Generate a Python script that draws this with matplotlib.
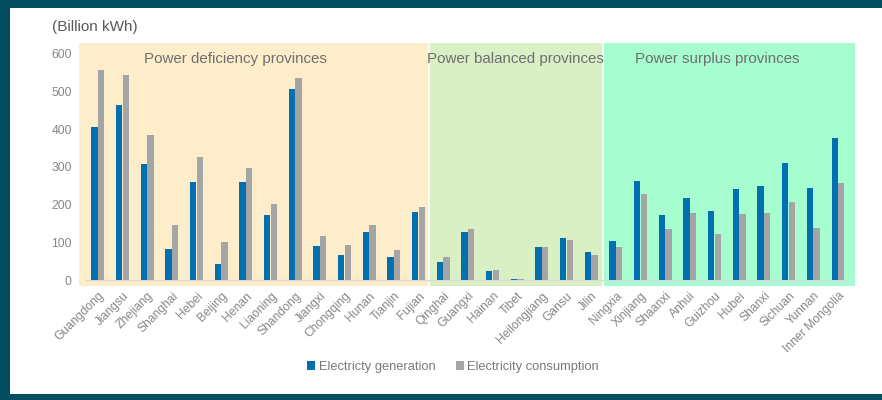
import matplotlib
matplotlib.use('Agg')
import matplotlib.pyplot as plt
import numpy as np
from matplotlib.patches import Rectangle

plt.rcParams['font.family'] = ['Liberation Sans', 'DejaVu Sans']

provinces = ['Guangdong', 'Jiangsu', 'Zhejiang', 'Shanghai', 'Hebei', 'Beijing', 'Henan',
             'Liaoning', 'Shandong', 'Jiangxi', 'Chongqing', 'Hunan', 'Tianjin', 'Fujian',
             'Qinghai', 'Guangxi', 'Hainan', 'Tibet', 'Heilongjiang', 'Gansu', 'Jilin',
             'Ningxia', 'Xinjiang', 'Shaanxi', 'Anhui', 'Guizhou', 'Hubei', 'Shanxi',
             'Sichuan', 'Yunnan', 'Inner Mongolia']
generation = [406, 465, 307, 81, 259, 43, 259, 171, 506, 90, 66, 127, 60, 181,
              48, 127, 24, 3, 87, 111, 73,
              103, 262, 171, 217, 183, 241, 248, 311, 245, 377]
consumption = [557, 543, 385, 147, 325, 100, 296, 202, 536, 117, 92, 147, 80, 194,
               62, 134, 26, 3, 87, 106, 66,
               87, 229, 134, 178, 122, 174, 178, 208, 138, 257]
groups = ['Power deficiency provinces', 'Power balanced provinces', 'Power surplus provinces']

blue = '#0070b0'
grey = '#a5a5a5'
shades = ['#feedcb', '#d9efc4', '#a6fdd0']

fig = plt.figure(figsize=(8.82, 4.0), dpi=100, facecolor='#024d5f')
fig.patches.append(Rectangle((10/882, 6/400), 1, 386/400, transform=fig.transFigure,
                             facecolor='white', edgecolor='none', zorder=-10))

ax = fig.add_axes([78.7/882, 114.3/400, 776.3/882, 242.4/400])
ax.set_facecolor('none')

x = np.arange(len(provinces))
left_edge, right_edge = -0.78, 30.69
ax.set_xlim(left_edge, right_edge)
ax.set_ylim(-15.1, 627.4)

# shaded province groups
edges = [left_edge, 13.41, 20.46, right_edge]
for i in range(3):
    ax.axvspan(edges[i], edges[i+1], color=shades[i], lw=0, zorder=0)
for b in edges[1:3]:
    ax.axvline(b, color='white', lw=1.2, zorder=1)

label_x = [5.59, 16.94, 25.09]
for name, lx in zip(groups, label_x):
    ax.text(lx, 586, name, ha='center', va='center', fontsize=10.9, color='#6f6f6f', zorder=3)

ax.axhline(0, xmin=0.01, xmax=0.99, color='#d9d9d9', lw=1, zorder=1)

w = 0.245
ax.bar(x - 0.14, generation, w, color=blue, zorder=2, label='Electricty generation')
ax.bar(x + 0.13, consumption, w, color=grey, zorder=2, label='Electricity consumption')

ax.set_yticks([0, 100, 200, 300, 400, 500, 600])
ax.set_xticks(x)
ax.set_xticklabels(provinces, rotation=45, ha='right', rotation_mode='anchor')
ax.tick_params(axis='both', length=0, labelsize=8.7, labelcolor='#878787')
ax.tick_params(axis='x', pad=3)
ax.tick_params(axis='y', pad=5)
for s in ax.spines.values():
    s.set_visible(False)

fig.text(52/882, 1 - 27/400, '(Billion kWh)', fontsize=11, color='#595959', va='center', ha='left')

fig.legend(loc='center', bbox_to_anchor=(453/882, 1 - 367/400), ncol=2, frameon=False,
           fontsize=9.3, labelcolor='#7a7a7a', handlelength=0.6, handleheight=0.6,
           handletextpad=0.3, columnspacing=1.6)

fig.savefig('out.png', dpi=100, facecolor=fig.get_facecolor())
